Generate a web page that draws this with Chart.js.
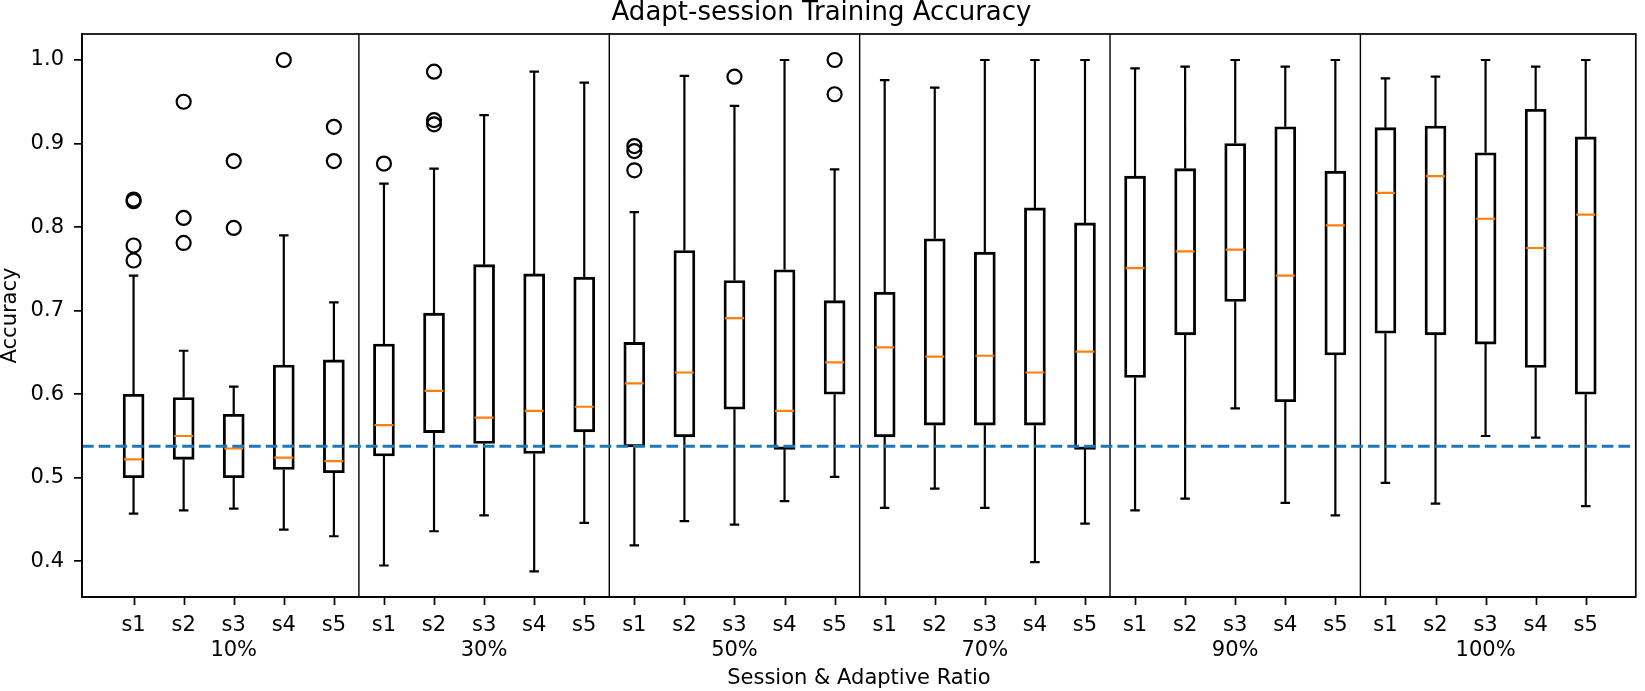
<!DOCTYPE html>
<html>
<head>
<meta charset="utf-8">
<script src="https://cdn.jsdelivr.net/npm/chart.js@4.4.1/dist/chart.umd.min.js"></script>
<style>
  html, body { margin: 0; padding: 0; background: #fff; }
  #wrap { width: 1645px; height: 691px; }
</style>
</head>
<body>
<div id="wrap"><canvas id="chart"></canvas></div>
<script>
// DATA
const ratios = ['10%', '30%', '50%', '70%', '90%', '100%'];
const sessions = ['s1', 's2', 's3', 's4', 's5'];

const whiskerLow = [0.457, 0.461, 0.463, 0.438, 0.430,
                    0.395, 0.436, 0.455, 0.388, 0.446,
                    0.419, 0.448, 0.444, 0.472, 0.501,
                    0.464, 0.487, 0.464, 0.399, 0.445,
                    0.461, 0.475, 0.583, 0.470, 0.455,
                    0.494, 0.469, 0.550, 0.548, 0.466];
const q1 = [0.500, 0.522, 0.500, 0.510, 0.506,
            0.526, 0.554, 0.541, 0.529, 0.555,
            0.537, 0.549, 0.582, 0.534, 0.600,
            0.549, 0.563, 0.563, 0.563, 0.534,
            0.620, 0.671, 0.711, 0.591, 0.647,
            0.673, 0.671, 0.660, 0.632, 0.600];
const medians = [0.522, 0.550, 0.535, 0.524, 0.520,
                 0.563, 0.604, 0.572, 0.580, 0.585,
                 0.613, 0.626, 0.691, 0.580, 0.638,
                 0.656, 0.645, 0.646, 0.626, 0.651,
                 0.751, 0.771, 0.773, 0.742, 0.802,
                 0.841, 0.861, 0.810, 0.775, 0.815];
const q3 = [0.600, 0.596, 0.576, 0.635, 0.641,
            0.660, 0.697, 0.755, 0.744, 0.740,
            0.662, 0.772, 0.736, 0.749, 0.712,
            0.722, 0.786, 0.770, 0.823, 0.805,
            0.861, 0.870, 0.900, 0.920, 0.867,
            0.919, 0.921, 0.889, 0.941, 0.908];
const whiskerHigh = [0.742, 0.652, 0.609, 0.790, 0.710,
                     0.852, 0.870, 0.934, 0.986, 0.973,
                     0.818, 0.981, 0.945, 1.000, 0.869,
                     0.976, 0.967, 1.000, 1.000, 1.000,
                     0.990, 0.992, 1.000, 0.992, 1.000,
                     0.978, 0.980, 1.000, 0.992, 1.000];
const outliers = [[0.833, 0.831, 0.778, 0.760], [0.950, 0.811, 0.781], [0.879, 0.799], [1.000], [0.920, 0.879],
                  [0.876], [0.986, 0.928, 0.923], [], [], [],
                  [0.897, 0.891, 0.868], [], [0.980], [], [1.000, 0.959],
                  [], [], [], [], [],
                  [], [], [], [], [],
                  [], [], [], [], []];
const baseline = 0.5377;

// positions 1..30, separators between ratio groups
const positions = whiskerLow.map((_, i) => i + 1);
const groupEdges = ratios.slice(1).map((_, g) => (g + 1) * sessions.length + 0.5);

const xMin = -0.03, xMax = 31;
const yMin = 0.3573, yMax = 1.0311;
const lw = 2.2;

const gap = x => ({ x: x, y: null });

const whiskerPts = positions.flatMap((x, i) => [
  { x, y: q1[i] }, { x, y: whiskerLow[i] }, gap(x),
  { x, y: q3[i] }, { x, y: whiskerHigh[i] }, gap(x)
]);
const capPts = positions.flatMap((x, i) => [
  { x: x - 0.095, y: whiskerLow[i] }, { x: x + 0.095, y: whiskerLow[i] }, gap(x),
  { x: x - 0.095, y: whiskerHigh[i] }, { x: x + 0.095, y: whiskerHigh[i] }, gap(x)
]);
const medianPts = positions.flatMap((x, i) => [
  { x: x - 0.19, y: medians[i] }, { x: x + 0.19, y: medians[i] }, gap(x)
]);
const outlierPts = positions.flatMap((x, i) => outliers[i].map(v => ({ x, y: v })));
const edgePts = groupEdges.flatMap(e => [{ x: e, y: yMin }, { x: e, y: yMax }, gap(e)]);

Chart.defaults.font.family = 'DejaVu Sans';
Chart.defaults.font.size = 21;
Chart.defaults.color = '#000';

// spines all round + x tick marks
const frame = {
  id: 'frame',
  afterDraw(chart) {
    const { ctx, chartArea: a } = chart;
    const xs = chart.scales.x;
    ctx.save();
    ctx.strokeStyle = '#000';
    ctx.lineWidth = 1.7;
    ctx.strokeRect(a.left, a.top, a.right - a.left, a.bottom - a.top);
    for (const p of positions) {
      const px = Math.round(xs.getPixelForValue(p)) + 0.5;
      ctx.beginPath();
      ctx.moveTo(px, a.bottom);
      ctx.lineTo(px, a.bottom + 8);
      ctx.stroke();
    }
    ctx.restore();
  }
};

new Chart(document.getElementById('chart'), {
  type: 'bar',
  data: {
    datasets: [
      {
        type: 'bar',
        data: positions.map((x, i) => ({ x, y: [q1[i], q3[i]] })),
        backgroundColor: 'rgba(0,0,0,0)',
        borderColor: '#000',
        borderWidth: lw,
        borderSkipped: false,
        barThickness: 21,
        order: 6
      },
      {
        type: 'line', data: whiskerPts, borderColor: '#000', borderWidth: lw,
        pointRadius: 0, spanGaps: false, order: 5
      },
      {
        type: 'line', data: capPts, borderColor: '#000', borderWidth: lw,
        pointRadius: 0, spanGaps: false, order: 4
      },
      {
        type: 'line', data: medianPts, borderColor: '#ff7f0e', borderWidth: lw,
        pointRadius: 0, spanGaps: false, order: 3
      },
      {
        type: 'scatter', data: outlierPts, showLine: false,
        pointRadius: 7, pointBorderWidth: lw, pointBorderColor: '#000',
        pointBackgroundColor: 'rgba(0,0,0,0)', order: 2
      },
      {
        type: 'line', data: edgePts, borderColor: '#000', borderWidth: 1.4,
        pointRadius: 0, spanGaps: false, order: 1
      },
      {
        type: 'line', data: [{ x: xMin, y: baseline }, { x: xMax, y: baseline }],
        borderColor: '#1f77b4', borderWidth: 3, borderDash: [11.7, 5],
        pointRadius: 0, order: 0
      }
    ]
  },
  options: {
    responsive: true,
    maintainAspectRatio: false,
    animation: false,
    events: [],
    layout: { padding: { right: 2 } },
    plugins: {
      legend: { display: false },
      tooltip: { enabled: false },
      title: {
        display: true,
        text: 'Adapt-session Training Accuracy',
        font: { size: 26, weight: 'normal', lineHeight: 1.0 },
        padding: { top: 0, bottom: 8 },
        color: '#000'
      }
    },
    scales: {
      x: {
        type: 'linear',
        min: xMin,
        max: xMax,
        offset: false,
        afterFit: s => { s.height = 94; },
        afterBuildTicks: s => { s.ticks = positions.map(v => ({ value: v })); },
        ticks: {
          autoSkip: false,
          maxRotation: 0,
          padding: 16,
          font: { size: 21, lineHeight: 1.2 },
          callback: v => {
            const i = Math.round(v) - 1;
            const s = i % sessions.length;
            const label = sessions[s];
            return s === 2 ? [label, ratios[Math.floor(i / sessions.length)]] : label;
          }
        },
        grid: { display: false, drawTicks: false },
        border: { display: true, color: '#000', width: 1.7 },
        title: {
          display: true,
          text: 'Session & Adaptive Ratio',
          font: { size: 21, lineHeight: 1.2 },
          padding: { top: 0, bottom: 0 }
        }
      },
      y: {
        min: yMin,
        max: yMax,
        afterFit: s => { s.width = 82; },
        ticks: {
          stepSize: 0.1,
          includeBounds: false,
          padding: 10,
          font: { size: 21 },
          callback: v => v.toFixed(1)
        },
        grid: { drawOnChartArea: false, drawTicks: true, tickLength: 8, color: '#000', lineWidth: 1.7 },
        border: { display: true, color: '#000', width: 1.7 },
        title: {
          display: true,
          text: 'Accuracy',
          font: { size: 21, lineHeight: 1.0 },
          padding: { top: 0, bottom: 0 }
        }
      }
    }
  },
  plugins: [frame]
});
</script>
</body>
</html>
